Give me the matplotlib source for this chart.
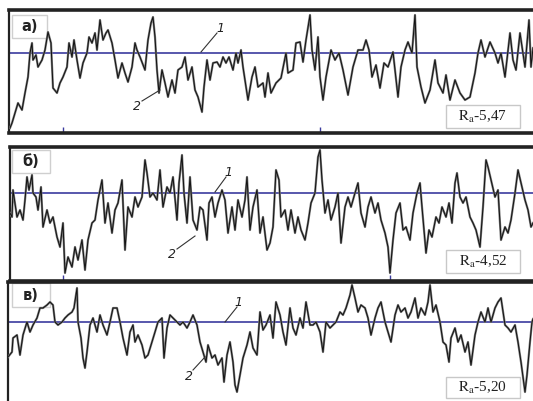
import matplotlib
matplotlib.use("Agg")
import matplotlib.pyplot as plt
from matplotlib.patches import Rectangle

plt.rcParams['mathtext.fontset'] = 'stix'

# ---- data: profile position along trace and height relative to mean line ----
pos_a = [10, 12, 15, 18, 22, 25, 28, 30, 32, 33, 36, 38, 42, 45, 48, 51, 53, 57, 60, 63, 67, 69, 72, 74, 77, 80,
         83, 87, 89, 92, 95, 97, 100, 103, 106, 108, 112, 115, 118, 122, 125, 128, 132, 135, 137, 140, 145, 148,
         151, 153, 155, 157, 159, 162, 165, 168, 172, 175, 178, 182, 185, 188, 192, 195, 198, 202, 204, 207, 210,
         213, 217, 220, 223, 226, 229, 233, 236, 238, 241, 243, 248, 252, 255, 258, 263, 265, 268, 271, 276, 281,
         286, 288, 293, 296, 300, 303, 306, 310, 312, 315, 318, 320, 323, 326, 331, 335, 339, 343, 348, 353, 358,
         363, 366, 369, 372, 376, 380, 384, 388, 393, 398, 401, 405, 408, 412, 415, 417, 421, 425, 430, 435, 438,
         443, 446, 450, 455, 460, 465, 470, 475, 478, 481, 485, 490, 495, 498, 501, 505, 510, 513, 516, 520, 525,
         529, 531, 533]
height_a = [-75, -70, -60, -50, -57, -40, -24, 0, 10, -7, -2, -14, -7, 3, 21, 10, -35, -40, -30, -24, -14, 10, -4,
            13, -7, -25, -10, 0, 16, 10, 20, 3, 33, 13, 20, 23, 10, -7, -25, -10, -20, -29, -14, 10, 3, -4, -17, 13,
            30, 36, 16, -17, -40, -17, -30, -44, -27, -40, -17, -14, -4, -27, -14, -37, -44, -59, -34, -7, -27,
            -10, -9, -14, -4, -10, -4, -17, 0, -10, 3, -14, -47, -24, -14, -34, -30, -44, -20, -40, -30, -25,
            0, -20, -17, 10, 11, -9, 13, 38, 3, -17, 16, -24, -47, -24, 3, -7, 0, -17, -42, -14, 3,
            3, 13, 3, -24, -12, -35, -10, -14, 1, -44, -14, 3, 11, 0, 38, -14, -34, -50, -37, -7, -30,
            -40, -22, -47, -27, -40, -47, -44, -20, 0, 13, -4, 11, 0, -10, 0, -24, 20, -7, -17, 20, -14,
            33, -14, 5]

pos_b = [10, 12, 13, 17, 20, 23, 25, 27, 29, 32, 33, 36, 38, 41, 43, 47, 50, 53, 57, 60, 63, 65, 68, 72, 75, 78,
         82, 85, 88, 92, 95, 98, 102, 105, 108, 112, 115, 118, 122, 125, 128, 132, 135, 138, 142, 145, 147, 150,
         153, 157, 160, 163, 167, 170, 173, 177, 179, 182, 184, 187, 190, 193, 197, 200, 203, 207, 209, 212, 215,
         218, 222, 225, 228, 232, 235, 238, 242, 245, 247, 250, 253, 257, 260, 263, 267, 270, 273, 276, 279, 281,
         285, 288, 291, 295, 298, 301, 305, 308, 311, 315, 318, 320, 322, 325, 328, 331, 335, 338, 341, 345, 348,
         351, 355, 358, 361, 365, 368, 371, 375, 378, 381, 385, 388, 390, 393, 396, 400, 403, 406, 410, 413, 417,
         420, 422, 426, 429, 432, 436, 439, 442, 446, 449, 452, 455, 457, 460, 463, 466, 470, 473, 476, 480, 483,
         486, 488, 491, 495, 498, 501, 505, 508, 511, 515, 518, 521, 525, 528, 531, 533]
height_b = [-20, -24, 3, -24, -17, -27, -7, 16, 3, 18, 0, -4, -17, 6, -34, -17, -30, -24, -44, -54, -30, -80, -64,
            -74, -54, -67, -47, -77, -47, -30, -27, -7, 13, -30, -10, -40, -17, -10, 13, -57, -14, -24, -4, -14,
            -4, 33, 20, -4, 0, -7, 23, -14, 6, 0, 16, -27, 10, 38, 0, -30, 16, -27, -37, -14, -17, -47, -10, -4,
            -24, -10, 3, -7, -40, -14, -37, -7, -24, -7, 16, -37, -14, 3, -40, -24, -57, -50, -34, 23, 13, -24,
            -17, -37, -17, -40, -24, -37, -47, -30, -10, 0, 36, 43, 13, -20, -7, -27, -14, 0, -50, -14, -4,
            -14, 0, 10, -20, -34, -14, -4, -20, -10, -27, -40, -54, -80, -47, -20, -10, -37, -34, -47, -20, 0,
            10, -14, -60, -37, -44, -24, -30, -14, -24, -10, -30, 10, 20, -4, -10, -4, -24, -30, -37, -54, -14,
            33, 26, 13, -4, 3, -47, -34, -40, -27, 0, 23, 10, -7, -17, -34, -30]

pos_c = [8, 12, 13, 17, 20, 23, 27, 30, 33, 37, 40, 43, 47, 50, 53, 55, 58, 62, 65, 68, 72, 74, 77, 78, 81, 83, 85,
         87, 90, 93, 97, 100, 103, 107, 110, 113, 117, 120, 123, 127, 130, 133, 135, 138, 142, 145, 148, 152,
         155, 158, 162, 164, 167, 170, 173, 177, 180, 183, 187, 190, 193, 197, 200, 203, 206, 208, 212, 215, 218,
         222, 224, 227, 230, 233, 235, 237, 240, 243, 247, 250, 253, 257, 260, 263, 266, 270, 273, 276, 280, 283,
         286, 290, 293, 296, 300, 303, 306, 310, 313, 316, 320, 323, 326, 330, 333, 336, 340, 343, 346, 350, 352,
         355, 358, 361, 365, 368, 371, 375, 378, 381, 385, 388, 391, 395, 398, 401, 405, 408, 411, 415, 418, 421,
         425, 428, 430, 433, 436, 440, 443, 446, 449, 451, 455, 458, 461, 465, 468, 471, 475, 478, 481, 485, 488,
         491, 495, 498, 501, 505, 508, 511, 515, 518, 521, 525, 527, 530, 532, 533]
height_c = [-35, -30, -16, -13, -33, -13, 0, -10, -3, 4, 14, 14, 17, 20, 17, 0, -3, 0, 4, 7, 10, 14, 34, 0, -16, -36,
            -46, -30, -3, 4, -10, 7, -3, -13, 0, 14, 14, 0, -16, -33, -10, -3, -20, -13, -23, -36, -33, -20, -10,
            0, 4, -36, -6, 7, 4, 0, -3, 0, -6, 0, 7, -3, -20, -30, -40, -23, -36, -33, -43, -36, -60, -33, -20,
            -40, -63, -70, -53, -36, -23, -10, -26, -33, 10, -8, -3, 7, -16, 20, 7, -10, -23, 14, -6, -13, 4, -6,
            20, -3, -3, 0, -10, -30, 0, -6, -3, 0, 10, 7, 14, 27, 37, 24, 10, 17, 14, 4, -13, 4, 14, 20, 0, -10,
            -20, 7, 17, 10, 14, 4, 10, 24, 4, 14, 7, 20, 37, 10, 17, 0, -20, -23, -40, -16, -6, -20, -13, -30,
            -20, -43, -13, 0, 10, 0, 14, 0, 14, 20, 24, -3, -6, -10, -3, -20, -40, -70, -53, -20, 0, 3]

panel_labels = ["а)", "б)", "в)"]
ra_labels = ["5,47", "4,52", "5,20"]

# ---- layout (pixel geometry of the 533x401 figure) ----
W, H = 533, 401
panels = [
    dict(x0=9, top=10, bot=133, mean=53, label_box=(12, 47, 15, 38), ra_box=(446, 520, 105, 128),
         n1=(220, 28), l1=((201, 52), (217, 33)), n2=(137, 107), l2=((160, 90), (142, 101)),
         ticks_bot=[63, 320]),
    dict(x0=10, top=147, bot=281, mean=193, label_box=(12, 50, 150, 173), ra_box=(446, 520, 250, 273),
         n1=(228, 172), l1=((215, 192), (226, 177)), n2=(172, 255), l2=((195, 236), (177, 249)),
         ticks_bot=[63, 390]),
    dict(x0=8, top=282, bot=401, mean=322, label_box=(12, 50, 283, 307), ra_box=(446, 520, 377, 398),
         n1=(238, 303), l1=((225, 322), (237, 307)), n2=(189, 377), l2=((205, 357), (193, 370)),
         ticks_bot=[]),
]
series = [(pos_a, height_a), (pos_b, height_b), (pos_c, height_c)]

fig = plt.figure(figsize=(W / 100, H / 100), dpi=100)
fig.patch.set_facecolor("white")

for i, (p, (xs, ys)) in enumerate(zip(panels, series)):
    left = p["x0"] / W
    bottom = 1 - p["bot"] / H
    height = (p["bot"] - p["top"]) / H
    ax = fig.add_axes([left, bottom, 1 - left, height])
    m = p["mean"]
    ax.set_xlim(p["x0"], W)
    ax.set_ylim(m - p["bot"], m - p["top"])

    ax.axhline(0, color="#3b3b9e", lw=1.2, zorder=2)
    ax.plot(xs, ys, color="#7a7a7a", lw=1.6, zorder=3)
    ax.plot(xs, ys, color="#111111", lw=0.7, zorder=4)

    x1, x2, y1, y2 = p["label_box"]
    ax.add_patch(Rectangle((x1, m - y2), x2 - x1, y2 - y1, facecolor="white", edgecolor="#cfcfcf",
                           lw=1.0, zorder=1))
    ax.text((x1 + x2) / 2, m - (y1 + y2) / 2, panel_labels[i], ha="center", va="center",
            fontsize=10.5, fontweight="bold", color="#222222", zorder=5)

    x1, x2, y1, y2 = p["ra_box"]
    ax.add_patch(Rectangle((x1, m - y2), x2 - x1, y2 - y1, facecolor="white", edgecolor="#c8c8c8",
                           lw=1.0, zorder=5))
    ax.text((x1 + x2) / 2, m - (y1 + y2) / 2, r"$\mathrm{R_a}$-" + ra_labels[i], ha="center", va="center",
            fontsize=11, family="Liberation Serif", color="#222222", zorder=6)

    for num, key_n, key_l in (("1", "n1", "l1"), ("2", "n2", "l2")):
        (ax_, ay_), (bx_, by_) = p[key_l]
        ax.plot([ax_, bx_], [m - ay_, m - by_], color="#333333", lw=0.8, zorder=5)
        nx, ny = p[key_n]
        ax.text(nx, m - ny, num, ha="center", va="center", fontsize=9, style="italic",
                color="#222222", zorder=6)

    ax.spines["right"].set_visible(False)
    ax.spines["left"].set_linewidth(1.6)
    ax.spines["left"].set_color("#222222")
    ax.spines["top"].set_linewidth(2.6)
    ax.spines["top"].set_color("#222222")
    ax.spines["bottom"].set_linewidth(2.6)
    ax.spines["bottom"].set_color("#222222")
    if i == 2:
        ax.spines["bottom"].set_visible(False)

    ax.set_xticks(p["ticks_bot"])
    ax.set_xticklabels([])
    ax.tick_params(axis="x", direction="in", length=4, color="#3b3b9e", width=1.0,
                   top=False, bottom=bool(p["ticks_bot"]))
    ax.set_yticks([])

fig.savefig("out.png", dpi=100)
